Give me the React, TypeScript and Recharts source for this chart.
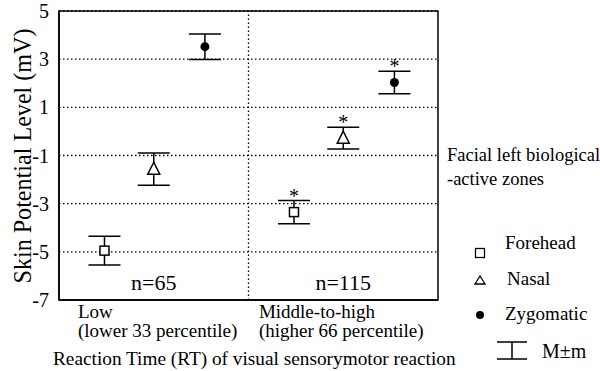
import { ComposedChart, Scatter, XAxis, YAxis, CartesianGrid, ReferenceLine, ReferenceArea, ErrorBar } from "recharts";

const groups = ["Low", "Middle-to-high"];
const groupSub = ["(lower 33 percentile)", "(higher 66 percentile)"];
const groupCenter = [0.5, 1.5];
const groupLabelX = [0.1, 1.055];
const sampleSize = ["n=65", "n=115"];

const seriesNames = ["Forehead", "Nasal", "Zygomatic"];
const seriesOffset = [-0.26, 0, 0.27];

const foreheadMean = [-4.95, -3.35];
const foreheadErr = [0.6, 0.48];
const foreheadSig = [false, true];

const nasalMean = [-1.57, -0.28];
const nasalErr = [0.67, 0.45];
const nasalSig = [false, true];

const zygomaticMean = [3.52, 2.03];
const zygomaticErr = [0.53, 0.47];
const zygomaticSig = [false, true];

const yTicks = [-7, -5, -3, -1, 1, 3, 5];

const FONT = "'Liberation Serif', 'Times New Roman', Times, serif";
const txt = (size: number) => ({ fontFamily: FONT, fontSize: size, fill: "#000" });

type Pt = { x: number; y: number; err: number };

const means = [foreheadMean, nasalMean, zygomaticMean];
const errs = [foreheadErr, nasalErr, zygomaticErr];
const sigs = [foreheadSig, nasalSig, zygomaticSig];

const seriesData: Pt[][] = means.map((m, i) =>
    groups.map((_, j) => ({ x: groupCenter[j] + seriesOffset[i], y: m[j], err: errs[i][j] }))
);

// asterisks sit just above the upper whisker of significant points
const starData = means.flatMap((m, i) =>
    groups
        .map((_, j) => ({ x: groupCenter[j] + seriesOffset[i], y: m[j] + errs[i][j], sig: sigs[i][j] }))
        .filter(d => d.sig)
);

const nData = groups.map((_, j) => ({ x: groupCenter[j], y: -7, label: sampleSize[j] }));

const Square = ({ cx, cy }: any) => (
    <rect x={cx - 4.5} y={cy - 4.5} width={9} height={9} fill="#fff" stroke="#000" strokeWidth={1.5} />
);
const Triangle = ({ cx, cy }: any) => (
    <polygon points={`${cx},${cy - 7} ${cx - 6},${cy + 5} ${cx + 6},${cy + 5}`} fill="#fff" stroke="#000" strokeWidth={1.5} />
);
const Circle = ({ cx, cy }: any) => <circle cx={cx} cy={cy} r={4.5} fill="#000" />;
const shapes = [Square, Triangle, Circle];

const Star = ({ cx, cy }: any) => (
    <text x={cx} y={cy + 2} textAnchor="middle" style={txt(20)}>*</text>
);

const NLabel = ({ cx, cy, payload }: any) => (
    <text x={cx} y={cy - 10} textAnchor="middle" style={txt(22)}>{payload.label}</text>
);

const GroupTick = ({ x, index }: any) => (
    <g>
        <text x={x} y={318} textAnchor="start" style={txt(19)}>{groups[index]}</text>
        <text x={x} y={337} textAnchor="start" style={txt(19)}>{groupSub[index]}</text>
    </g>
);

const Overlay = () => (
    <svg width={600} height={371} style={{ position: "absolute", left: 0, top: 0, pointerEvents: "none" }}>
        <text transform="translate(31,156) rotate(-90)" textAnchor="middle" textLength={255} lengthAdjust="spacingAndGlyphs" style={txt(26)}>Skin Potential Level (mV)</text>
        <text x={53} y={365} style={txt(19.3)}>Reaction Time (RT) of visual sensorymotor reaction</text>
        <text x={447} y={161} style={txt(18.5)}>Facial left biological</text>
        <text x={447} y={185} style={txt(18.5)}>-active zones</text>

        <rect x={475.5} y={248.5} width={9} height={9} fill="#fff" stroke="#000" strokeWidth={1.3} />
        <text x={505} y={249} style={txt(19)}>{seriesNames[0]}</text>

        <polygon points="480,276 475,284 485,284" fill="#fff" stroke="#000" strokeWidth={1.3} />
        <text x={507} y={285} style={txt(19)}>{seriesNames[1]}</text>

        <circle cx={480} cy={315} r={4} fill="#000" />
        <text x={505} y={320} style={txt(19)}>{seriesNames[2]}</text>

        <g stroke="#000" strokeWidth={1.5}>
            <line x1={497} x2={527} y1={342} y2={342} />
            <line x1={497} x2={527} y1={359} y2={359} />
            <line x1={512} x2={512} y1={342} y2={359} />
        </g>
        <text x={542} y={358} style={txt(20)}>M±m</text>
    </svg>
);

export default function App() {
    return (
        <div style={{ position: "absolute", left: 0, top: 0, width: 600, height: 371, background: "#fff" }}>
            <ComposedChart width={600} height={371} margin={{ top: 11, right: 162, left: 0, bottom: 0 }}>
                <CartesianGrid vertical={false} stroke="#000" strokeDasharray="1.5 2.5" strokeWidth={1.3} />
                <XAxis
                    type="number"
                    dataKey="x"
                    domain={[0, 2]}
                    ticks={groupLabelX}
                    tick={<GroupTick />}
                    tickLine={false}
                    tickSize={0}
                    axisLine={{ stroke: "#000", strokeWidth: 1.5 }}
                    height={71}
                    allowDataOverflow
                    interval={0}
                />
                <YAxis
                    type="number"
                    domain={[-7, 5]}
                    ticks={yTicks}
                    width={59}
                    tickLine={false}
                    tickSize={0}
                    tickMargin={10}
                    axisLine={{ stroke: "#000", strokeWidth: 1.5 }}
                    tick={{ fill: "#000", fontSize: 20, fontFamily: FONT }}
                    allowDataOverflow
                    interval={0}
                />
                <ReferenceLine x={1} stroke="#000" strokeDasharray="1.5 2.5" strokeWidth={1.3} />
                <ReferenceArea x1={0} x2={2} y1={-7} y2={5} fill="none" stroke="#000" strokeWidth={1.5} />
                {seriesData.map((d, i) => (
                    <Scatter key={seriesNames[i]} name={seriesNames[i]} data={d} dataKey="y" shape={shapes[i]} isAnimationActive={false}>
                        <ErrorBar dataKey="err" direction="y" width={16} stroke="#000" strokeWidth={1.5} />
                    </Scatter>
                ))}
                <Scatter name="sig" data={starData} dataKey="y" shape={Star} isAnimationActive={false} />
                <Scatter name="n" data={nData} dataKey="y" shape={NLabel} isAnimationActive={false} />
            </ComposedChart>
            <Overlay />
        </div>
    );
}
